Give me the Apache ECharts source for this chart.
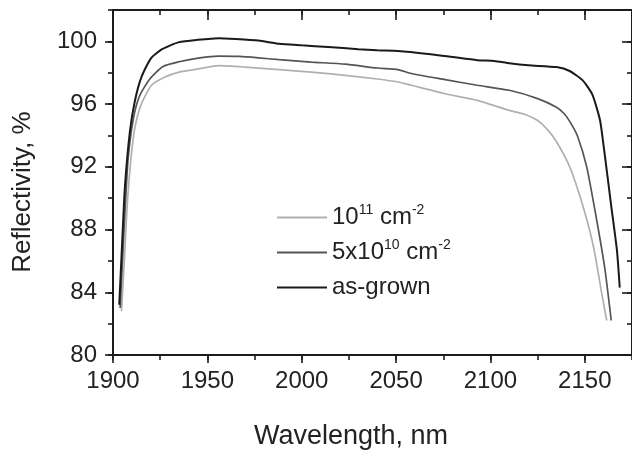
<!DOCTYPE html>
<html><head><meta charset="utf-8">
<script src="https://cdn.jsdelivr.net/npm/echarts@6/dist/echarts.min.js"></script>
<style>html,body{margin:0;padding:0;background:#fff}#c{width:632px;height:452px}</style>
</head><body><div id="c"></div>
<script>
// ---- data ----
const seriesNames = ['10^11 cm^-2', '5x10^10 cm^-2', 'as-grown'];

const wlLight = [1904.5,1906,1907.5,1909.5,1911.6,1915,1920.4,1927,1935,1946,1956,1970,1988,2005,2023,2040,2051,2058,2076,2093,2110,2118,2125,2130,2135,2142,2149,2154.6,2159,2161.6];
const rLight  = [82.8,86.0,89.5,92.5,94.5,96.0,97.2,97.7,98.04,98.26,98.45,98.36,98.2,98.04,97.83,97.6,97.41,97.2,96.66,96.24,95.6,95.35,94.95,94.4,93.6,92.0,89.5,86.9,83.9,82.2];

const wlMid = [1903.8,1905,1906.5,1908,1910.7,1914,1919.5,1926.5,1935,1946,1956,1967,1977,1988,2005,2023,2040,2051,2058,2076,2093,2110,2125,2135,2139,2142,2146,2151,2156,2160.5,2164];
const rMid  = [83.0,86.0,89.5,92.5,95.0,96.5,97.6,98.4,98.7,98.95,99.06,99.04,98.95,98.83,98.68,98.55,98.3,98.2,97.95,97.56,97.2,96.88,96.35,95.8,95.4,94.9,94.0,92.0,88.8,85.6,82.2];

const wlGrown = [1903.3,1904.6,1906.3,1909,1911.6,1915,1920,1926,1935,1945,1956,1965,1977,1988,2000,2014,2030,2040,2051,2067,2080,2093,2102,2110,2120,2135,2142,2149,2154,2158,2160,2164,2167,2168.5];
const rGrown  = [83.2,86.5,90.7,94.3,96.2,97.7,98.9,99.5,99.95,100.1,100.2,100.15,100.05,99.85,99.75,99.64,99.5,99.43,99.39,99.2,99.0,98.8,98.75,98.6,98.47,98.36,98.11,97.5,96.6,95.0,93.3,89.5,86.7,84.3];

const xMin = 1900, xMax = 2175, xMajor = 50, xMinor = 25;
const yMin = 80, yMax = 102, yMajor = 4, yMinor = 2;
const xTitle = 'Wavelength, nm';
const yTitle = 'Reflectivity, %';

// ---- chart ----
const FONT = "'Liberation Sans', Arial, sans-serif";
const AX = '#1c1c1c';
function pair(xs, ys) { return xs.map((x, i) => [x, ys[i]]); }

function xAx(pos, interval, len, inside, showLine, showLabel) {
  return {
    type: 'value', position: pos, min: xMin, max: xMax, interval: interval,
    axisLine: { show: showLine, lineStyle: { color: AX, width: 2 } },
    axisTick: { show: true, inside: inside, length: len, lineStyle: { color: AX, width: 1.6 } },
    axisLabel: { show: showLabel, showMaxLabel: false, margin: 14, fontSize: 24, color: '#222', fontFamily: FONT,
      formatter: function (v) { return String(v); } },
    splitLine: { show: false }
  };
}
function yAx(pos, interval, len, inside, showLine, showLabel) {
  return {
    type: 'value', position: pos, min: yMin, max: yMax, interval: interval,
    axisLine: { show: showLine, lineStyle: { color: AX, width: 2 } },
    axisTick: { show: true, inside: inside, length: len, lineStyle: { color: AX, width: 1.6 } },
    axisLabel: { show: showLabel, showMaxLabel: false, margin: 16, fontSize: 24, color: '#222', fontFamily: FONT,
      formatter: function (v) { return String(v); } },
    splitLine: { show: false }
  };
}

const legendText = {
  '10^11 cm^-2': '10{s|11} cm{s|-2}',
  '5x10^10 cm^-2': '5x10{s|10} cm{s|-2}',
  'as-grown': 'as-grown'
};

const chart = echarts.init(document.getElementById('c'), null, { renderer: 'canvas' });
chart.setOption({
  animation: false,
  backgroundColor: '#ffffff',
  grid: { left: 113, right: -3, top: 10, bottom: 97, containLabel: false },
  xAxis: [
    xAx('bottom', xMajor, 8, false, true, true),
    xAx('bottom', xMinor, 5, false, false, false),
    xAx('top', xMajor, 10, true, true, false),
    xAx('top', xMinor, 5, true, false, false)
  ],
  yAxis: [
    yAx('left', yMajor, 8, false, true, true),
    yAx('left', yMinor, 5, false, false, false),
    yAx('right', yMajor, 10, true, true, false),
    yAx('right', yMinor, 5, true, false, false)
  ],
  legend: {
    orient: 'vertical', left: 272, top: 198, itemWidth: 50, itemHeight: 2, itemGap: 6,
    icon: 'rect',
    data: seriesNames,
    formatter: function (n) { return legendText[n]; },
    textStyle: {
      fontSize: 24, color: '#222', fontFamily: FONT, lineHeight: 29,
      rich: { s: { fontSize: 14, fontFamily: FONT, color: '#222', lineHeight: 14, verticalAlign: 'top', padding: [0, 0, 10, 0] } }
    }
  },
  graphic: [
    { type: 'text', left: 254, top: 423, style: { text: xTitle, fontSize: 27, fontFamily: FONT, fill: '#222' } },
    { type: 'text', x: 23, y: 192, rotation: Math.PI / 2,
      style: { text: yTitle, fontSize: 26, fontFamily: FONT, fill: '#222', align: 'center', verticalAlign: 'middle' } }
  ],
  series: [
    { name: seriesNames[0], type: 'line', xAxisIndex: 0, yAxisIndex: 0, showSymbol: false, symbol: 'none', smooth: 0.2,
      data: pair(wlLight, rLight), lineStyle: { color: '#b0b0b0', width: 1.7 }, itemStyle: { color: '#b0b0b0' } },
    { name: seriesNames[1], type: 'line', xAxisIndex: 0, yAxisIndex: 0, showSymbol: false, symbol: 'none', smooth: 0.2,
      data: pair(wlMid, rMid), lineStyle: { color: '#555555', width: 1.7 }, itemStyle: { color: '#555555' } },
    { name: seriesNames[2], type: 'line', xAxisIndex: 0, yAxisIndex: 0, showSymbol: false, symbol: 'none', smooth: 0.2,
      data: pair(wlGrown, rGrown), lineStyle: { color: '#1a1a1a', width: 2 }, itemStyle: { color: '#1a1a1a' } }
  ]
});
</script>
</body></html>
